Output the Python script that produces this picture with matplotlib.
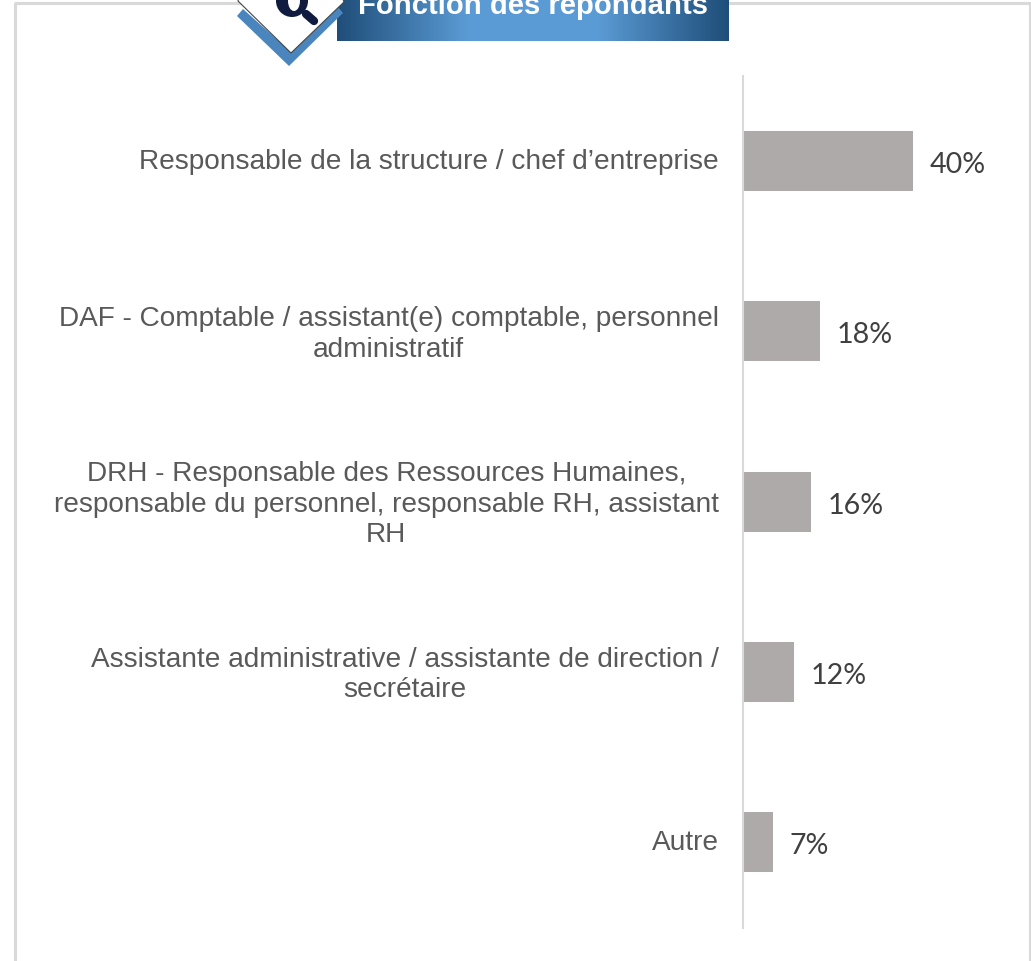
import numpy as np
import matplotlib
matplotlib.use('Agg')
import matplotlib.pyplot as plt
from matplotlib.colors import LinearSegmentedColormap
from matplotlib.patches import Polygon, Circle, Ellipse
from matplotlib.transforms import ScaledTranslation

categories = [
    'Responsable de la structure / chef d’entreprise',
    'DAF - Comptable / assistant(e) comptable, personnel\nadministratif',
    'DRH - Responsable des Ressources Humaines,\nresponsable du personnel, responsable RH, assistant\nRH',
    'Assistante administrative / assistante de direction /\nsecrétaire',
    'Autre',
]
values = [40, 18, 16, 12, 7]
value_labels = ['40%', '18%', '16%', '12%', '7%']
title = 'Fonction des répondants'

W, H = 1031, 962
fig = plt.figure(figsize=(W / 100, H / 100), dpi=100)

# calque en pixels pour le cadre
bg = fig.add_axes([0, 0, 1, 1])
bg.set_xlim(0, W)
bg.set_ylim(H, 0)
bg.axis('off')

bg.plot([14.8, 14.8], [H, 3.5], color='#d9d9d9', lw=2.2, solid_capstyle='butt')
bg.plot([14, W], [3.5, 3.5], color='#d9d9d9', lw=2.2, solid_capstyle='butt')
bg.plot([1029.5, 1029.5], [3, H], color='#d9d9d9', lw=2.2, solid_capstyle='butt')

# graphique
ax = fig.add_axes([743 / W, (H - 928.5) / H, (W - 743) / W, (928.5 - 77) / H])
ax.patch.set_alpha(0)
y = np.arange(len(categories))
bars = ax.barh(y, values, height=0.352, color='#aeaaaa')
ax.set_xlim(0, (W - 743) / 4.25)
ax.set_ylim(len(categories) - 0.5, -0.5)
texts = ax.bar_label(bars, labels=value_labels, padding=12, fontsize=20.6, family='Lato', color='#404040')
for t in texts:
    t.xyann = (12, -2)
ax.set_yticks(y)
ax.set_yticklabels(categories, fontsize=20.2, family='Liberation Sans', color='#595959',
                   multialignment='center', linespacing=1.24)
ax.tick_params(axis='y', length=0, pad=17.5)
ax.set_xticks([])
# remonter un peu les libelles
shift = ScaledTranslation(0, 2.5 / 72, fig.dpi_scale_trans)
for lab in ax.get_yticklabels():
    lab.set_transform(lab.get_transform() + shift)
for s in ['top', 'right', 'bottom']:
    ax.spines[s].set_visible(False)
ax.spines['left'].set_color('#d9d9d9')
ax.spines['left'].set_linewidth(1.5)

top = fig.add_axes([0, 0, 1, 1])
top.axis('off')

# bandeau degrade
cmap = LinearSegmentedColormap.from_list('band', ['#1f4e79', '#5b9bd5', '#5b9bd5', '#1f4e79'])
grad = np.linspace(0, 1, 256).reshape(1, -1)
top.imshow(grad, extent=(337, 729, 41.5, 0), cmap=cmap, aspect='auto', zorder=1)
top.set_xlim(0, W)
top.set_ylim(H, 0)
top.text(533, 14, title, ha='center', va='baseline', color='white', fontsize=21.1,
         fontweight='bold', family='Liberation Sans', zorder=2)

# icone
top.add_patch(Polygon([(237, 17), (289, 67), (343, 14), (338, 8), (291, 53), (243, 10)],
                      closed=True, facecolor='#4a86bd', edgecolor='none', zorder=3))
top.add_patch(Polygon([(238, 2), (291, 54), (344, 3), (341, -5), (240, -5)],
                      closed=True, facecolor='white', edgecolor='#444444', lw=0.8, zorder=4))
top.add_patch(Circle((292, 2), 16, facecolor='#0f1c3f', edgecolor='none', zorder=5))
top.add_patch(Ellipse((294, 2), 12, 20, facecolor='white', edgecolor='none', zorder=6))
top.plot([306, 314], [15, 22], color='#0f1c3f', lw=6, solid_capstyle='round', zorder=5)

fig.savefig('out.png', dpi=100)
